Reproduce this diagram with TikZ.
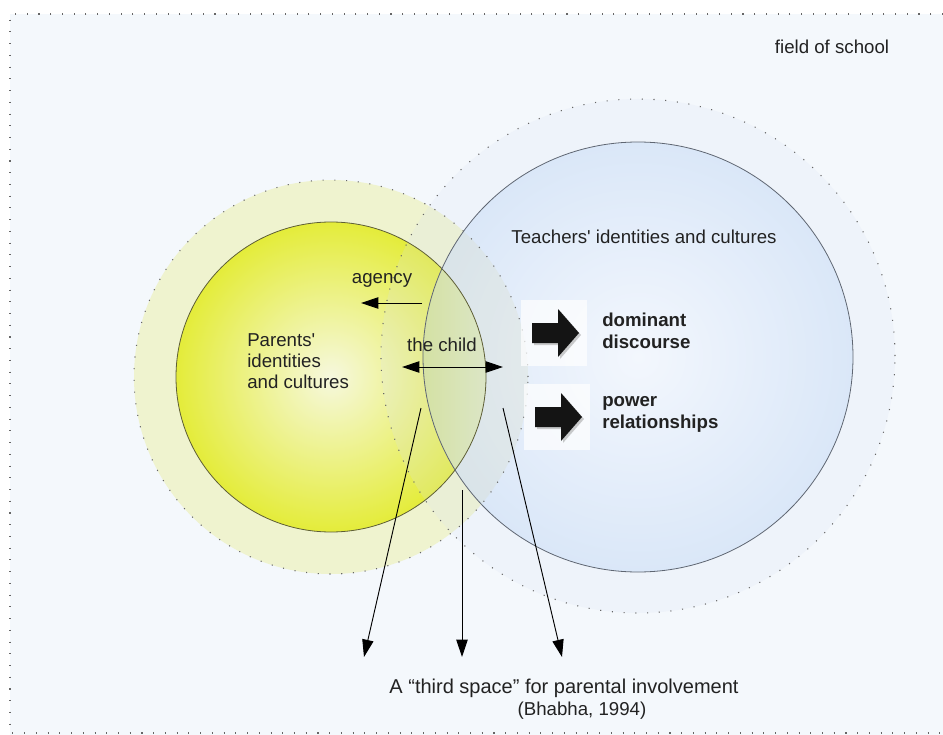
\documentclass[tikz,border=0pt]{standalone}
\usepackage{fontspec}
\setmainfont{Liberation Sans}
\usetikzlibrary{arrows.meta}

\definecolor{fieldbg}{HTML}{F4F8FC}
\definecolor{yhalo}{HTML}{EFF3CF}
\definecolor{yedge}{HTML}{E4EC3A}
\definecolor{ycenter}{HTML}{F6F8DE}
\definecolor{bhalo}{HTML}{D8E0F4}
\definecolor{bedge}{HTML}{DAE7F8}
\definecolor{bcenter}{HTML}{F3F7FD}
\definecolor{lensl}{HTML}{D4E1A2}
\definecolor{lensr}{HTML}{DCE6C8}
\definecolor{txtgray}{HTML}{222222}
\definecolor{yline}{HTML}{5E5E36}
\definecolor{bline}{HTML}{5F6672}

\tikzset{
  lbl/.style={text=txtgray, font=\fontsize{14}{16}\selectfont, inner sep=0pt},
  boldlbl/.style={lbl, font=\fontsize{14}{16.5}\selectfont\bfseries, align=left, anchor=west},
  flow/.style={draw=black, line width=0.7pt, -{Triangle[length=13pt,width=8.5pt]}},
  twoway/.style={draw=black, line width=0.7pt, {Triangle[length=13pt,width=8.5pt]}-{Triangle[length=13pt,width=8.5pt]}},
  halodots/.style={draw=black!60, line width=0.8pt, dash pattern=on 0.8pt off 8pt},
  iconbox/.style={fill=white, fill opacity=0.7, minimum size=49.5pt, inner sep=0pt},
}

\begin{document}
\begin{tikzpicture}[x=0.75pt,y=-0.75pt]
    \useasboundingbox (0,0) rectangle (943,735);

    % Field of school
    \fill[fieldbg] (10,14) rectangle (943,735);
    \draw[halodots] (943,14) -- (10,14) -- (10,733) -- (943,733);
    \node[lbl] (field) at (832,47) {field of school};

    % Parents' circle and its halo
    \fill[yhalo] (331,377) circle[radius=197*0.75pt];
    \shade[inner color=ycenter, outer color=yedge] (331,377) circle[radius=155*0.75pt];

    % Teachers' circle and its halo
    \fill[bhalo, fill opacity=0.2] (638,356) circle[radius=257*0.75pt];
    \shade[inner color=bcenter, outer color=bedge] (638,357) circle[radius=215*0.75pt];

    % Parents' halo seen through the teachers' circle
    \begin{scope}
        \clip (638,357) circle[radius=215*0.75pt];
        \fill[yhalo!80!gray, fill opacity=0.25] (331,377) circle[radius=197*0.75pt];
    \end{scope}

    % Overlap (the child)
    \begin{scope}
        \clip (638,357) circle[radius=215*0.75pt];
        \clip (331,377) circle[radius=155*0.75pt];
        \shade[left color=lensl, right color=lensr] (420,200) rectangle (490,560);
    \end{scope}

    % Outlines
    \draw[yline, line width=0.6pt] (331,377) circle[radius=155*0.75pt];
    \draw[bline, line width=0.6pt] (638,357) circle[radius=215*0.75pt];
    \draw[halodots] (331,377) circle[radius=197*0.75pt];
    \draw[halodots] (638,356) circle[radius=257*0.75pt];

    % Icons
    \foreach \bx/\by/\nm in {554/333/icoA, 557/417/icoB} {
        \node[iconbox] (\nm) at (\bx,\by) {};
        \fill[black!40, opacity=0.5, shift={(\bx+2,\by+2)}]
            (-22,-10) -- (4,-10) -- (4,-24) -- (25,0) -- (4,24) -- (4,10) -- (-22,10) -- cycle;
        \fill[black!92, shift={(\bx,\by)}]
            (-22,-10) -- (4,-10) -- (4,-24) -- (25,0) -- (4,24) -- (4,10) -- (-22,10) -- cycle;
    }

    % Labels
    \node[lbl] (teachers) at (644,237) {Teachers\textquotesingle{} identities and cultures};
    \node[lbl, align=left, anchor=west, font=\fontsize{14}{15.75}\selectfont] (parents) at (247,361)
        {Parents\textquotesingle\\identities\\and cultures};
    \node[lbl] (agency) at (382,280) {agency};
    \node[lbl] (child) at (442,345) {the child};
    \node[boldlbl] (dominant) at (602,331) {dominant\\discourse};
    \node[boldlbl] (power) at (602,414) {power\\relationships};
    \node[lbl, font=\fontsize{15}{18}\selectfont] (third) at (564,688)
        {A “third space” for parental involvement};
    \node[lbl] (bhabha) at (582,711) {(Bhabha, 1994)};

    % Arrows
    \coordinate (agencyS) at (422,303);
    \coordinate (agencyE) at (361,303);
    \draw[flow] (agencyS) -- (agencyE);
    \coordinate (childL) at (402,367);
    \coordinate (childR) at (503,367);
    \draw[twoway] (childL) -- (childR);

    \foreach \i/\sx/\sy/\ex in {1/421/408/364, 2/462/490/462, 3/503/408/562} {
        \coordinate (src\i) at (\sx,\sy);
        \coordinate (dst\i) at (\ex,657);
        \draw[flow] (src\i) -- (dst\i);
    }
\end{tikzpicture}
\end{document}
